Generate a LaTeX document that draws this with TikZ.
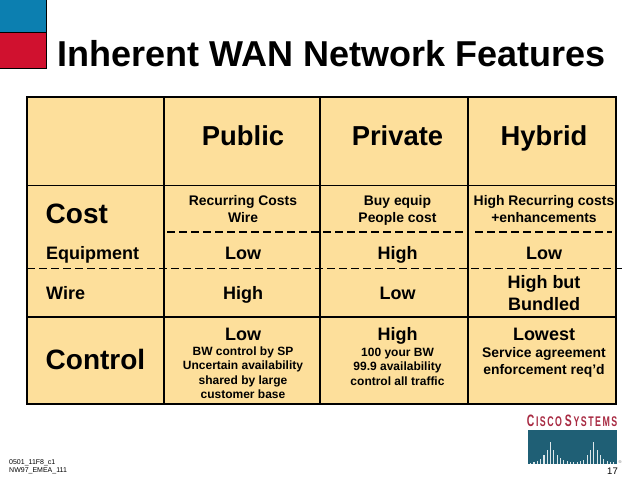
\documentclass[tikz,border=0pt]{standalone}
\usepackage{fontspec}
\setmainfont{Liberation Sans}
\definecolor{tan}{HTML}{FDDF9B}
\definecolor{cblue}{HTML}{0C7FB0}
\definecolor{cred}{HTML}{D0112F}
\definecolor{cteal}{HTML}{1F5F75}
\definecolor{clogo}{HTML}{A82A42}
\tikzset{
  dashrule/.style={draw=black,line width=1.9pt,dash pattern=on 8pt off 4pt},
  thinrule/.style={draw=black,line width=1.1pt,dash pattern=on 8pt off 4pt},
  thickrule/.style={draw=black,line width=2.6pt},
  txt/.style={inner sep=0pt,anchor=base,align=center},
  head/.style={txt,font=\bfseries\fontsize{27.4}{28}\selectfont},
  big/.style={txt,anchor=base west,font=\bfseries\fontsize{28}{30}\selectfont},
  side/.style={txt,anchor=base west,font=\bfseries\fontsize{18}{20}\selectfont},
  mid/.style={txt,font=\bfseries\fontsize{18}{21.3}\selectfont},
  small/.style={txt,font=\bfseries\fontsize{13.9}{16.8}\selectfont},
  tiny/.style={txt,font=\bfseries\fontsize{12}{14.4}\selectfont},
}
\begin{document}
\begin{tikzpicture}[x=1pt,y=-1pt]
\useasboundingbox (0,0) rectangle (640,480);
% corner squares
\fill[cblue,draw=black,line width=1pt] (-1,-1) rectangle (46,32);
\fill[cred,draw=black,line width=1pt] (-1,32) rectangle (46,68);
\node[inner sep=0pt,anchor=base west,font=\bfseries\fontsize{36}{38}\selectfont] (title) at (57,66.5) {Inherent WAN Network Features};
% table
\fill[tan] (27,96.5) rectangle (616,404);
\coordinate (tl) at (27,96.5);
\coordinate (tr) at (616,96.5);
\coordinate (bl) at (27,404);
\coordinate (br) at (616,404);
\coordinate (c1t) at (164,96.5);\coordinate (c1b) at (164,404);
\coordinate (c2t) at (320,96.5);\coordinate (c2b) at (320,404);
\coordinate (c3t) at (468,96.5);\coordinate (c3b) at (468,404);
\coordinate (r1l) at (27,185.5);\coordinate (r1r) at (616,185.5);
\coordinate (d1a) at (167,232.3);\coordinate (d1b) at (466,232.3);
\coordinate (d1c) at (475,232);\coordinate (d1d) at (612,232);
\coordinate (d2l) at (27,268.7);\coordinate (d2r) at (622,268.7);
\coordinate (r3l) at (27,317);\coordinate (r3r) at (616,317);
\draw[line width=2pt] (tl) -- (tr) -- (br) -- (bl) -- cycle;
\draw[line width=1.8pt] (c1t) -- (c1b) (c2t) -- (c2b) (c3t) -- (c3b) (r1l) -- (r1r);
\draw[thickrule] (r3l) -- (r3r);
\draw[dashrule] (d1a) -- (d1b);
\draw[thinrule] (d1c) -- (d1d);
\draw[dashrule,line width=1.5pt] (d2l) -- (d2r);
% headers
\node[head] (hpub) at (243,145.5) {Public};
\node[head] (hpri) at (397.5,145.5) {Private};
\node[head] (hhyb) at (544,145.5) {Hybrid};
% left column
\node[big] (lcost) at (45.5,223) {Cost};
\node[side] (lequip) at (46,259) {Equipment};
\node[side] (lwire) at (46,299) {Wire};
\node[big] (lctrl) at (45.5,369) {Control};
% row cost
\node[small] (a1) at (243,222.7) {Recurring Costs\\Wire};
\node[small] (a2) at (397.5,222.7) {Buy equip\\People cost};
\node[small] (a3) at (544,222.7) {High Recurring costs\\+enhancements};
% row equipment
\node[mid] (b1) at (243,259) {Low};
\node[mid] (b2) at (397.5,259) {High};
\node[mid] (b3) at (544,259) {Low};
% row wire
\node[mid] (c1) at (243,299) {High};
\node[mid] (c2) at (397.5,299) {Low};
\node[mid] (c3) at (544,310) {High but\\Bundled};
% row control
\node[mid] (d1) at (243,340) {Low};
\node[mid] (d2) at (397.5,340) {High};
\node[mid] (d3) at (544,340) {Lowest};
\node[tiny] (e1) at (243,398.7) {BW control by SP\\Uncertain availability\\shared by large\\customer base};
\node[tiny] (e2) at (397.5,385) {100 your BW\\99.9 availability\\control all traffic};
\node[small] (e3) at (544,374.7) {Service agreement\\enforcement req’d};
% footer
\node[inner sep=0pt,align=left,anchor=north west,font=\fontsize{7}{8}\selectfont] (foot) at (9,459.5) {0501\_11F8\_c1\\NW97\_EMEA\_111};
\node[inner sep=0pt,font=\fontsize{9.5}{10}\selectfont] (page) at (612.5,471.5) {17};
% logo
\node[inner sep=0pt,anchor=center,text=clogo,xscale=.63,transform shape,font=\bfseries\fontsize{16.5}{16}\selectfont] (logotext) at (572,421) {C\,\fontsize{14}{14}\selectfont I\,S\,C\,O\,\,\fontsize{16.5}{16}\selectfont S\,\fontsize{14}{14}\selectfont Y\,S\,T\,E\,M\,S};
\fill[cteal] (527.5,430) rectangle (617,463.5);
\foreach \n/\h in {0/1,1/2,2/3,3/5,4/9,5/14,6/22,7/14,8/9,9/6,10/4,11/3,12/2,13/2,14/2,15/3,16/4,17/9,18/14,19/22,20/14,21/9,22/5,23/3,24/2,25/2}
  \draw[white!85!cteal,line width=1.1pt] ({530.7+3.32*\n},463.5) -- ++(0,-\h);
\node[inner sep=0pt,text=black!60,font=\fontsize{4}{4}\selectfont] (reg) at (620,462) {®};
\end{tikzpicture}
\end{document}
